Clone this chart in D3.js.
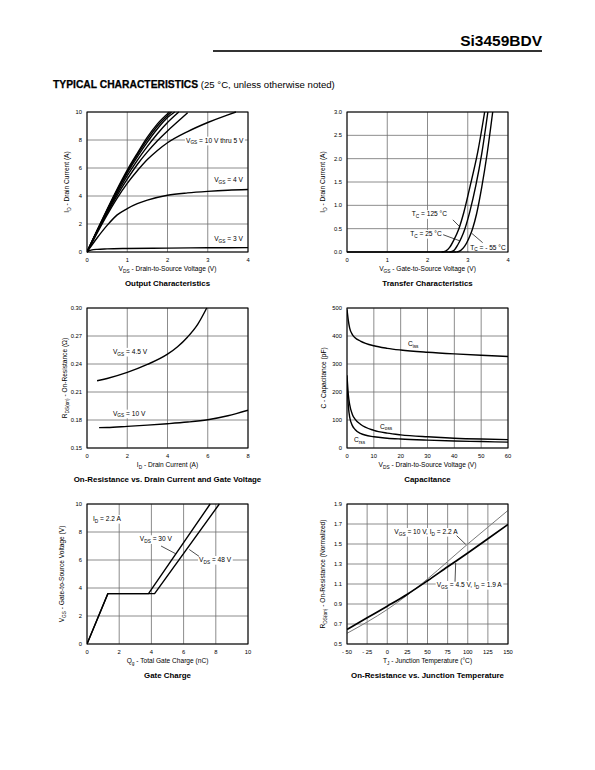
<!DOCTYPE html>
<html><head><meta charset="utf-8">
<script src="https://cdn.jsdelivr.net/npm/d3@7"></script>
<style>
body{margin:0;background:#fff}
svg{display:block}
text{font-family:"Liberation Sans",Arial,Helvetica,sans-serif;fill:#000}
</style>
</head><body>
<svg id="c" width="595" height="770"></svg>
<script>
// ---------------- DATA ----------------
// Output Characteristics: ID (A) vs VDS (V)
const outVgs10 = [[0,0],[0.25,1.55],[0.5,3.05],[0.75,4.5],[1,5.85],[1.25,7.05],[1.5,8.2],[1.75,9.15],[2.05,10]];
const outVgs9  = [[0,0],[0.25,1.52],[0.5,3.0],[0.75,4.42],[1,5.75],[1.25,6.95],[1.5,8.05],[1.75,9.0],[2.1,10]];
const outVgs8  = [[0,0],[0.25,1.5],[0.5,2.95],[0.75,4.35],[1,5.65],[1.25,6.8],[1.5,7.85],[1.75,8.8],[2.0,9.6],[2.18,10]];
const outVgs7  = [[0,0],[0.25,1.47],[0.5,2.88],[0.75,4.2],[1,5.45],[1.25,6.55],[1.5,7.55],[1.75,8.45],[2.0,9.25],[2.28,10]];
const outVgs6  = [[0,0],[0.25,1.42],[0.5,2.78],[0.75,4.05],[1,5.2],[1.25,6.25],[1.5,7.15],[1.75,7.95],[2.0,8.65],[2.25,9.3],[2.5,9.95]];
const outVgs5  = [[0,0],[0.25,1.35],[0.5,2.65],[0.75,3.85],[1,4.9],[1.25,5.8],[1.5,6.6],[1.75,7.25],[2.0,7.8],[2.5,8.6],[3.0,9.25],[3.5,9.8],[3.7,10]];
const outVgs4  = [[0,0],[0.25,1.0],[0.5,1.9],[0.75,2.65],[1,3.1],[1.25,3.45],[1.5,3.7],[2.0,4.05],[2.5,4.22],[3.0,4.33],[3.5,4.41],[4.0,4.46]];
const outVgs3  = [[0,0],[0.1,0.13],[0.25,0.19],[0.5,0.22],[1,0.25],[2,0.28],[3,0.3],[4,0.31]];
const outXTicks = [0,1,2,3,4];
const outYTicks = [0,2,4,6,8,10];

// Transfer Characteristics: ID (A) vs VGS (V)
const trT125 = [[2.35,0],[2.45,0.02],[2.55,0.1],[2.65,0.25],[2.78,0.5],[2.9,0.84],[3.05,1.38],[3.25,2.15],[3.42,3.0]];
const trT25  = [[2.55,0],[2.65,0.03],[2.75,0.15],[2.85,0.32],[2.93,0.5],[3.05,0.86],[3.2,1.42],[3.35,2.12],[3.5,3.0]];
const trTm55 = [[2.72,0],[2.82,0.03],[2.92,0.12],[3.02,0.28],[3.12,0.5],[3.22,0.82],[3.35,1.4],[3.48,2.1],[3.62,3.0]];
const trFlat = [[0,0],[2.72,0]];
const trXTicks = [0,1,2,3,4];
const trYTicks = [0,0.5,1.0,1.5,2.0,2.5,3.0];

// On-Resistance vs Drain Current: RDS(on) (ohm) vs ID (A)
const ronVgs45 = [[0.5,0.222],[1,0.2245],[2,0.231],[3,0.2395],[4,0.2505],[4.5,0.2585],[5,0.269],[5.5,0.2825],[5.95,0.30]];
const ronVgs10 = [[0.6,0.1718],[1,0.172],[2,0.1732],[3,0.1745],[4,0.176],[5,0.1778],[6,0.1803],[7,0.1845],[8,0.1905]];
const ronXTicks = [0,2,4,6,8];
const ronYTicks = [0.15,0.18,0.21,0.24,0.27,0.30];

// Capacitance: C (pF) vs VDS (V)
const capCiss = [[0,495],[0.5,455],[1,428],[2,405],[3,394],[5,382],[10,365],[15,356],[20,350],[30,342],[40,336],[50,331],[60,327]];
const capCoss = [[0,260],[0.5,190],[1,155],[2,120],[3,103],[5,85],[10,63],[15,53],[20,47],[30,40],[40,35],[50,32],[60,30]];
const capCrss = [[0,230],[0.5,150],[1,110],[2,80],[3,66],[5,52],[10,40],[15,35],[20,32],[30,28],[40,25],[50,23],[60,21]];
const capXTicks = [0,10,20,30,40,50,60];
const capYTicks = [0,100,200,300,400,500];

// Gate Charge: VGS (V) vs Qg (nC)
const gcVds30 = [[0,0],[1.3,3.6],[3.82,3.6],[7.65,10]];
const gcVds48 = [[0,0],[1.3,3.6],[4.2,3.6],[8.22,10]];
const gcXTicks = [0,2,4,6,8,10];
const gcYTicks = [0,2,4,6,8,10];

// On-Resistance vs Junction Temperature: normalized RDS(on) vs TJ (°C)
const tjVgs10 = [[-50,0.607],[-25,0.72],[0,0.845],[25,0.99],[50,1.15],[75,1.325],[100,1.5],[125,1.668],[150,1.836]];
const tjVgs45 = [[-50,0.645],[-25,0.762],[0,0.878],[25,0.998],[50,1.132],[75,1.272],[100,1.41],[125,1.552],[150,1.695]];
const tjXTicks = [-50,-25,0,25,50,75,100,125,150];
const tjYTicks = [0.5,0.7,0.9,1.1,1.3,1.5,1.7,1.9];
const tjXLabels = ["- 50","- 25","0","25","50","75","100","125","150"];

// ---------------- RENDER ----------------
const svg = d3.select("#c");
const TICK_FS = 5.8, AX_FS = 6.6, TITLE_FS = 7.9, LBL_FS = 6.6;

function rich(t, str, fs){
  t.text(null);
  const parts = str.split(/(_\{[^}]*\})/).filter(p=>p.length);
  let shifted = false;
  parts.forEach(p=>{
    if(p.startsWith("_{")){
      t.append("tspan").attr("font-size",fs*0.72).attr("dy", shifted?0:fs*0.25).text(p.slice(2,-1));
      shifted = true;
    } else {
      t.append("tspan").attr("dy", shifted? -fs*0.25:0).text(p);
      shifted = false;
    }
  });
}

function chart(cfg){
  const g = svg.append("g");
  const x = d3.scaleLinear().domain(cfg.xDomain).range([cfg.box[0], cfg.box[1]]);
  const y = d3.scaleLinear().domain(cfg.yDomain).range([cfg.box[3], cfg.box[2]]);
  // grid
  g.append("g").selectAll("line").data(cfg.xTicks).join("line")
    .attr("x1",d=>x(d)).attr("x2",d=>x(d)).attr("y1",y.range()[0]).attr("y2",y.range()[1])
    .attr("stroke","#6e6e6e").attr("stroke-width",0.8);
  g.append("g").selectAll("line").data(cfg.yTicks).join("line")
    .attr("y1",d=>y(d)).attr("y2",d=>y(d)).attr("x1",x.range()[0]).attr("x2",x.range()[1])
    .attr("stroke","#6e6e6e").attr("stroke-width",0.8);
  // tick labels
  g.append("g").selectAll("text").data(cfg.xTicks).join("text")
    .attr("x",d=>x(d)).attr("y",y.range()[0]+10).attr("text-anchor","middle")
    .attr("font-size",TICK_FS).text((d,i)=>cfg.xFmt? cfg.xFmt(d,i): d);
  g.append("g").selectAll("text").data(cfg.yTicks).join("text")
    .attr("x",x.range()[0]-5).attr("y",d=>y(d)+2).attr("text-anchor","end")
    .attr("font-size",TICK_FS).text(d=>cfg.yFmt? cfg.yFmt(d): d);
  // labels (white backgrounds)
  const lg = g.append("g");
  (cfg.labels||[]).forEach(l=>{
    const t = lg.append("text").attr("x",x(l.at[0])).attr("y",y(l.at[1])+2)
      .attr("font-size",LBL_FS);
    rich(t, l.text, LBL_FS);
    const bb = t.node().getBBox();
    lg.insert("rect","text").attr("x",bb.x-1).attr("y",bb.y).attr("width",bb.width+2).attr("height",bb.height).attr("fill","#fff");
  });
  // leaders
  (cfg.leaders||[]).forEach(L=>{
    g.append("line").attr("x1",x(L[0][0])).attr("y1",y(L[0][1])).attr("x2",x(L[1][0])).attr("y2",y(L[1][1]))
      .attr("stroke","#000").attr("stroke-width",0.7);
  });
  // curves
  const clip = "clip"+cfg.id;
  g.append("clipPath").attr("id",clip).append("rect")
    .attr("x",cfg.box[0]).attr("y",cfg.box[2]-1).attr("width",cfg.box[1]-cfg.box[0]).attr("height",cfg.box[3]-cfg.box[2]+2);
  const lineGen = d3.line().x(d=>x(d[0])).y(d=>y(d[1])).curve(cfg.curve||d3.curveMonotoneX);
  cfg.series.forEach(s=>{
    g.append("path").attr("d",lineGen(s.data)).attr("fill","none")
      .attr("stroke",s.color||"#000").attr("stroke-width",s.w||1.5).attr("stroke-linejoin","round")
      .attr("clip-path",`url(#${clip})`);
  });
  // frame
  g.append("rect").attr("x",cfg.box[0]).attr("y",cfg.box[2]).attr("width",cfg.box[1]-cfg.box[0]).attr("height",cfg.box[3]-cfg.box[2])
    .attr("fill","none").attr("stroke","#000").attr("stroke-width",1);
  // axis titles
  const cx = (cfg.box[0]+cfg.box[1])/2;
  const xt = g.append("text").attr("x",cx).attr("y",cfg.box[3]+19).attr("text-anchor","middle").attr("font-size",AX_FS);
  rich(xt, cfg.xLabel, AX_FS);
  const cy = (cfg.box[2]+cfg.box[3])/2;
  const yt = g.append("text").attr("transform",`translate(${cfg.yLabelX},${cy}) rotate(-90)`).attr("text-anchor","middle").attr("font-size",AX_FS);
  rich(yt, cfg.yLabel, AX_FS);
  g.append("text").attr("x",cx).attr("y",cfg.box[3]+34).attr("text-anchor","middle")
    .attr("font-size",TITLE_FS).attr("font-weight","bold").text(cfg.title);
}

// header
svg.append("text").attr("x",542).attr("y",46).attr("text-anchor","end").attr("font-size",15.5).attr("font-weight","bold").text("Si3459BDV");
svg.append("line").attr("x1",213).attr("x2",542).attr("y1",51).attr("y2",51).attr("stroke","#333").attr("stroke-width",1.8);
const hdr = svg.append("text").attr("x",53).attr("y",88).attr("font-size",9.6);
hdr.append("tspan").attr("font-weight","bold").attr("font-size",10.3).attr("stroke","#000").attr("stroke-width",0.25).text("TYPICAL CHARACTERISTICS");
hdr.append("tspan").text(" (25 °C, unless otherwise noted)");

chart({id:1, box:[87,248,112,252], xDomain:[0,4], yDomain:[0,10], xTicks:outXTicks, yTicks:outYTicks,
  series:[outVgs10,outVgs9,outVgs8,outVgs7,outVgs6,outVgs5,outVgs4,outVgs3].map(d=>({data:d, w:1.4})),
  labels:[{at:[2.46,7.95],text:"V_{GS} = 10 V thru 5 V"},{at:[3.16,5.14],text:"V_{GS} = 4 V"},{at:[3.16,0.93],text:"V_{GS} = 3 V"}],
  xLabel:"V_{DS} - Drain-to-Source Voltage (V)", yLabel:"I_{D} - Drain Current (A)", yLabelX:69, title:"Output Characteristics"});

chart({id:2, box:[347,508,112,252], xDomain:[0,4], yDomain:[0,3], xTicks:trXTicks, yTicks:trYTicks, yFmt:d3.format(".1f"),
  series:[trFlat,trT125,trT25,trTm55].map(d=>({data:d, w:1.4})),
  labels:[{at:[1.61,0.81],text:"T_{C} = 125 °C"},{at:[1.57,0.386],text:"T_{C} = 25 °C"},{at:[3.06,0.092],text:"T_{C} = - 55 °C"}],
  leaders:[[[2.63,0.69],[2.79,0.55]],[[2.39,0.37],[2.8,0.24]],[[3.37,0.2],[3.1,0.4]]],
  xLabel:"V_{GS} - Gate-to-Source Voltage (V)", yLabel:"I_{D} - Drain Current (A)", yLabelX:325, title:"Transfer Characteristics"});

chart({id:3, box:[87,248,308,448], xDomain:[0,8], yDomain:[0.15,0.30], xTicks:ronXTicks, yTicks:ronYTicks, yFmt:d3.format(".2f"),
  series:[ronVgs45,ronVgs10].map(d=>({data:d, w:1.4})),
  labels:[{at:[1.29,0.253],text:"V_{GS} = 4.5 V"},{at:[1.29,0.1868],text:"V_{GS} = 10 V"}],
  xLabel:"I_{D} - Drain Current (A)", yLabel:"R_{DS(on)} - On-Resistance (Ω)", yLabelX:67, title:"On-Resistance vs. Drain Current and Gate Voltage"});

chart({id:4, box:[347,508,308,448], xDomain:[0,60], yDomain:[0,500], xTicks:capXTicks, yTicks:capYTicks,
  series:[capCiss,capCoss,capCrss].map(d=>({data:d, w:1.4})),
  labels:[{at:[22.7,370],text:"C_{iss}"},{at:[12.3,76],text:"C_{oss}"},{at:[2.6,28.6],text:"C_{rss}"}],
  xLabel:"V_{DS} - Drain-to-Source Voltage (V)", yLabel:"C - Capacitance (pF)", yLabelX:326, title:"Capacitance"});

chart({id:5, box:[87,248,504,644], xDomain:[0,10], yDomain:[0,10], xTicks:gcXTicks, yTicks:gcYTicks, curve:d3.curveLinear,
  series:[gcVds30,gcVds48].map(d=>({data:d, w:1.4})),
  labels:[{at:[0.37,8.93],text:"I_{D} = 2.2 A"},{at:[3.28,7.48],text:"V_{DS} = 30 V"},{at:[6.96,6.0],text:"V_{DS} = 48 V"}],
  leaders:[[[4.6,7.0],[5.5,6.45]],[[6.96,6.26],[6.35,6.75]]],
  xLabel:"Q_{g} - Total Gate Charge (nC)", yLabel:"V_{GS} - Gate-to-Source Voltage (V)", yLabelX:64, title:"Gate Charge"});

chart({id:6, box:[347,508,504,644], xDomain:[-50,150], yDomain:[0.5,1.9], xTicks:tjXTicks, yTicks:tjYTicks, yFmt:d3.format(".1f"),
  xFmt:(d,i)=>tjXLabels[i],
  series:[{data:tjVgs10, w:1.0, color:"#7a7a7a"},{data:tjVgs45, w:1.7}],
  labels:[{at:[8.8,1.62],text:"V_{GS} = 10 V, I_{D} = 2.2 A"},{at:[61.4,1.09],text:"V_{GS} = 4.5 V, I_{D} = 1.9 A"}],
  leaders:[[[86.2,1.583],[97.4,1.497]],[[84.2,1.123],[85,1.31]]],
  xLabel:"T_{J} - Junction Temperature (°C)", yLabel:"R_{DS(on)} - On-Resistance (Normalized)", yLabelX:325, title:"On-Resistance vs. Junction Temperature"});
</script>
</body></html>
